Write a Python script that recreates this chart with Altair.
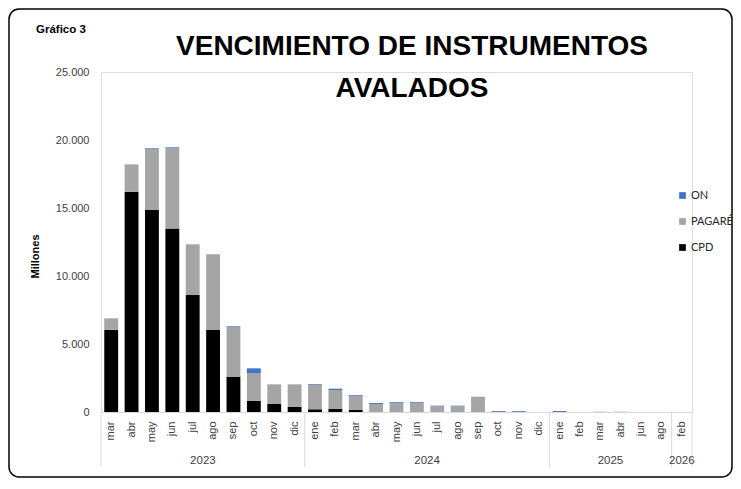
import altair as alt
import pandas as pd

# ---- data ----
years = ["2023"] * 10 + ["2024"] * 12 + ["2025"] * 6 + ["2026"] * 1
months = ["mar", "abr", "may", "jun", "jul", "ago", "sep", "oct", "nov", "dic",
          "ene", "feb", "mar", "abr", "may", "jun", "jul", "ago", "sep", "oct", "nov", "dic",
          "ene", "feb", "mar", "abr", "jun", "ago",
          "feb"]
cpd = [6050, 16200, 14850, 13500, 8600, 6030, 2600, 830, 590, 370,
       200, 245, 150, 0, 0, 0, 0, 0, 0, 0, 0, 0,
       0, 0, 0, 0, 0, 0,
       0]
pagare = [840, 2010, 4490, 5890, 3730, 5570, 3650, 2010, 1445, 1665,
          1810, 1375, 1050, 590, 680, 680, 415, 415, 1125, 0, 0, 0,
          0, 0, 0, 0, 0, 0,
          0]
on = [0, 0, 50, 70, 0, 0, 50, 370, 0, 0,
      50, 95, 50, 70, 55, 55, 50, 50, 0, 60, 60, 0,
      70, 0, 15, 15, 0, 0,
      0]
series_names = ["ON", "PAGARÉ", "CPD"]
series_colors = ["#4472C4", "#A5A5A5", "#000000"]
title_lines = ["VENCIMIENTO DE INSTRUMENTOS", "AVALADOS"]
chart_label = "Gráfico 3"
y_title = "Millones"
y_ticks = [0, 5000, 10000, 15000, 20000, 25000]

# ---- tables ----
keys = [f"{y}|{m}|{i}" for i, (y, m) in enumerate(zip(years, months))]
rows = []
for name, vals, order in [("CPD", cpd, 0), ("PAGARÉ", pagare, 1), ("ON", on, 2)]:
    for k, v in zip(keys, vals):
        rows.append({"key": k, "series": name, "value": v, "ord": order})
long = pd.DataFrame(rows)

# year groups
groups = []
for y in dict.fromkeys(years):
    idx = [i for i, yy in enumerate(years) if yy == y]
    groups.append({"year": y, "start": idx[0], "n": len(idx)})
year_even = pd.DataFrame([{"key": keys[g["start"] + g["n"] // 2], "year": g["year"]}
                          for g in groups if g["n"] % 2 == 0])
year_odd = pd.DataFrame([{"key": keys[g["start"] + g["n"] // 2], "year": g["year"]}
                         for g in groups if g["n"] % 2 == 1])
bound_start = pd.DataFrame([{"key": keys[g["start"]]} for g in groups])
bound_end = pd.DataFrame([{"key": keys[-1]}])

W, H = 591, 340
PL, PT, PR, PB = 93, 64, 41, 66
FONT = "Liberation Sans"
TXT = "#404040"

xscale = alt.Scale(type="band", domain=keys, paddingInner=0, paddingOuter=0)

bars = alt.Chart(long).mark_bar(width={"band": 0.68}).encode(
    x=alt.X("key:N", scale=xscale, title=None,
            axis=alt.Axis(labelExpr="split(datum.value, '|')[1]", labelAngle=270,
                          labelAlign="right", labelBaseline="middle", ticks=False,
                          tickSize=0, labelPadding=9, domainColor="#D9D9D9",
                          labelFontSize=11, labelColor=TXT, labelFont=FONT, grid=False)),
    y=alt.Y("value:Q", stack="zero", scale=alt.Scale(domain=[0, 25000], nice=False),
            axis=alt.Axis(values=y_ticks, labelExpr="replace(format(datum.value, ','), ',', '.')",
                          domain=False, ticks=False, tickSize=0, grid=False, labelPadding=12,
                          labelFontSize=11, labelColor=TXT, labelFont=FONT,
                          title=y_title, titleFont=FONT, titleFontSize=11, titleFontWeight="bold",
                          titleColor="#000000", titleAngle=270, titleX=-66, titleY=184,
                          titleAlign="center", titleBaseline="middle")),
    color=alt.Color("series:N",
                    scale=alt.Scale(domain=series_names, range=series_colors),
                    sort=series_names,
                    legend=alt.Legend(title=None, orient="none", legendX=576, legendY=118,
                                      symbolType="square", symbolSize=45, symbolStrokeWidth=0,
                                      labelFontSize=11, labelFont="Lato", labelColor="#262626",
                                      rowPadding=14, labelOffset=3, padding=0)),
    order=alt.Order("ord:Q"),
)

years_a = alt.Chart(year_even).mark_text(fontSize=11.5, font=FONT, color=TXT, baseline="middle").encode(
    x=alt.X("key:N", scale=xscale, bandPosition=0),
    y=alt.value(H + 49),
    text="year:N",
)
years_b = alt.Chart(year_odd).mark_text(fontSize=11.5, font=FONT, color=TXT, baseline="middle").encode(
    x=alt.X("key:N", scale=xscale, bandPosition=0.5),
    y=alt.value(H + 49),
    text="year:N",
)
rules_a = alt.Chart(bound_start).mark_rule(color="#D9D9D9", strokeWidth=1).encode(
    x=alt.X("key:N", scale=xscale, bandPosition=0),
    y=alt.value(H), y2=alt.value(H + 55),
)
rules_b = alt.Chart(bound_end).mark_rule(color="#D9D9D9", strokeWidth=1).encode(
    x=alt.X("key:N", scale=xscale, bandPosition=1),
    y=alt.value(H), y2=alt.value(H + 55),
)

one = pd.DataFrame({"t": ["\n".join(title_lines)], "g": [chart_label]})
title = alt.Chart(one).mark_text(font=FONT, fontSize=28, fontWeight="bold", align="center",
                                 baseline="alphabetic", lineBreak="\n", lineHeight=42,
                                 color="#000000").encode(
    x=alt.value(311), y=alt.value(-17.5), text="t:N")
glabel = alt.Chart(one).mark_text(font=FONT, fontSize=11.5, fontWeight="bold", align="left",
                                  baseline="alphabetic", color="#000000").encode(
    x=alt.value(-65), y=alt.value(-39.5), text="g:N")
border = alt.Chart(one).mark_rect(fillOpacity=0, stroke="#000000", strokeWidth=1.5,
                                  cornerRadius=10).encode(
    x=alt.value(-PL + 1), x2=alt.value(W + PR - 1),
    y=alt.value(-PT + 1), y2=alt.value(H + PB - 1))

chart = alt.layer(bars, rules_a, rules_b, years_a, years_b, title, glabel, border).properties(
    width=W, height=H,
    autosize=alt.AutoSizeParams(type="none"),
    padding={"left": PL, "top": PT, "right": PR, "bottom": PB},
).configure_view(stroke=None).configure(background="white")

chart.save("out.html", embed_options={"renderer": "svg", "actions": False})
